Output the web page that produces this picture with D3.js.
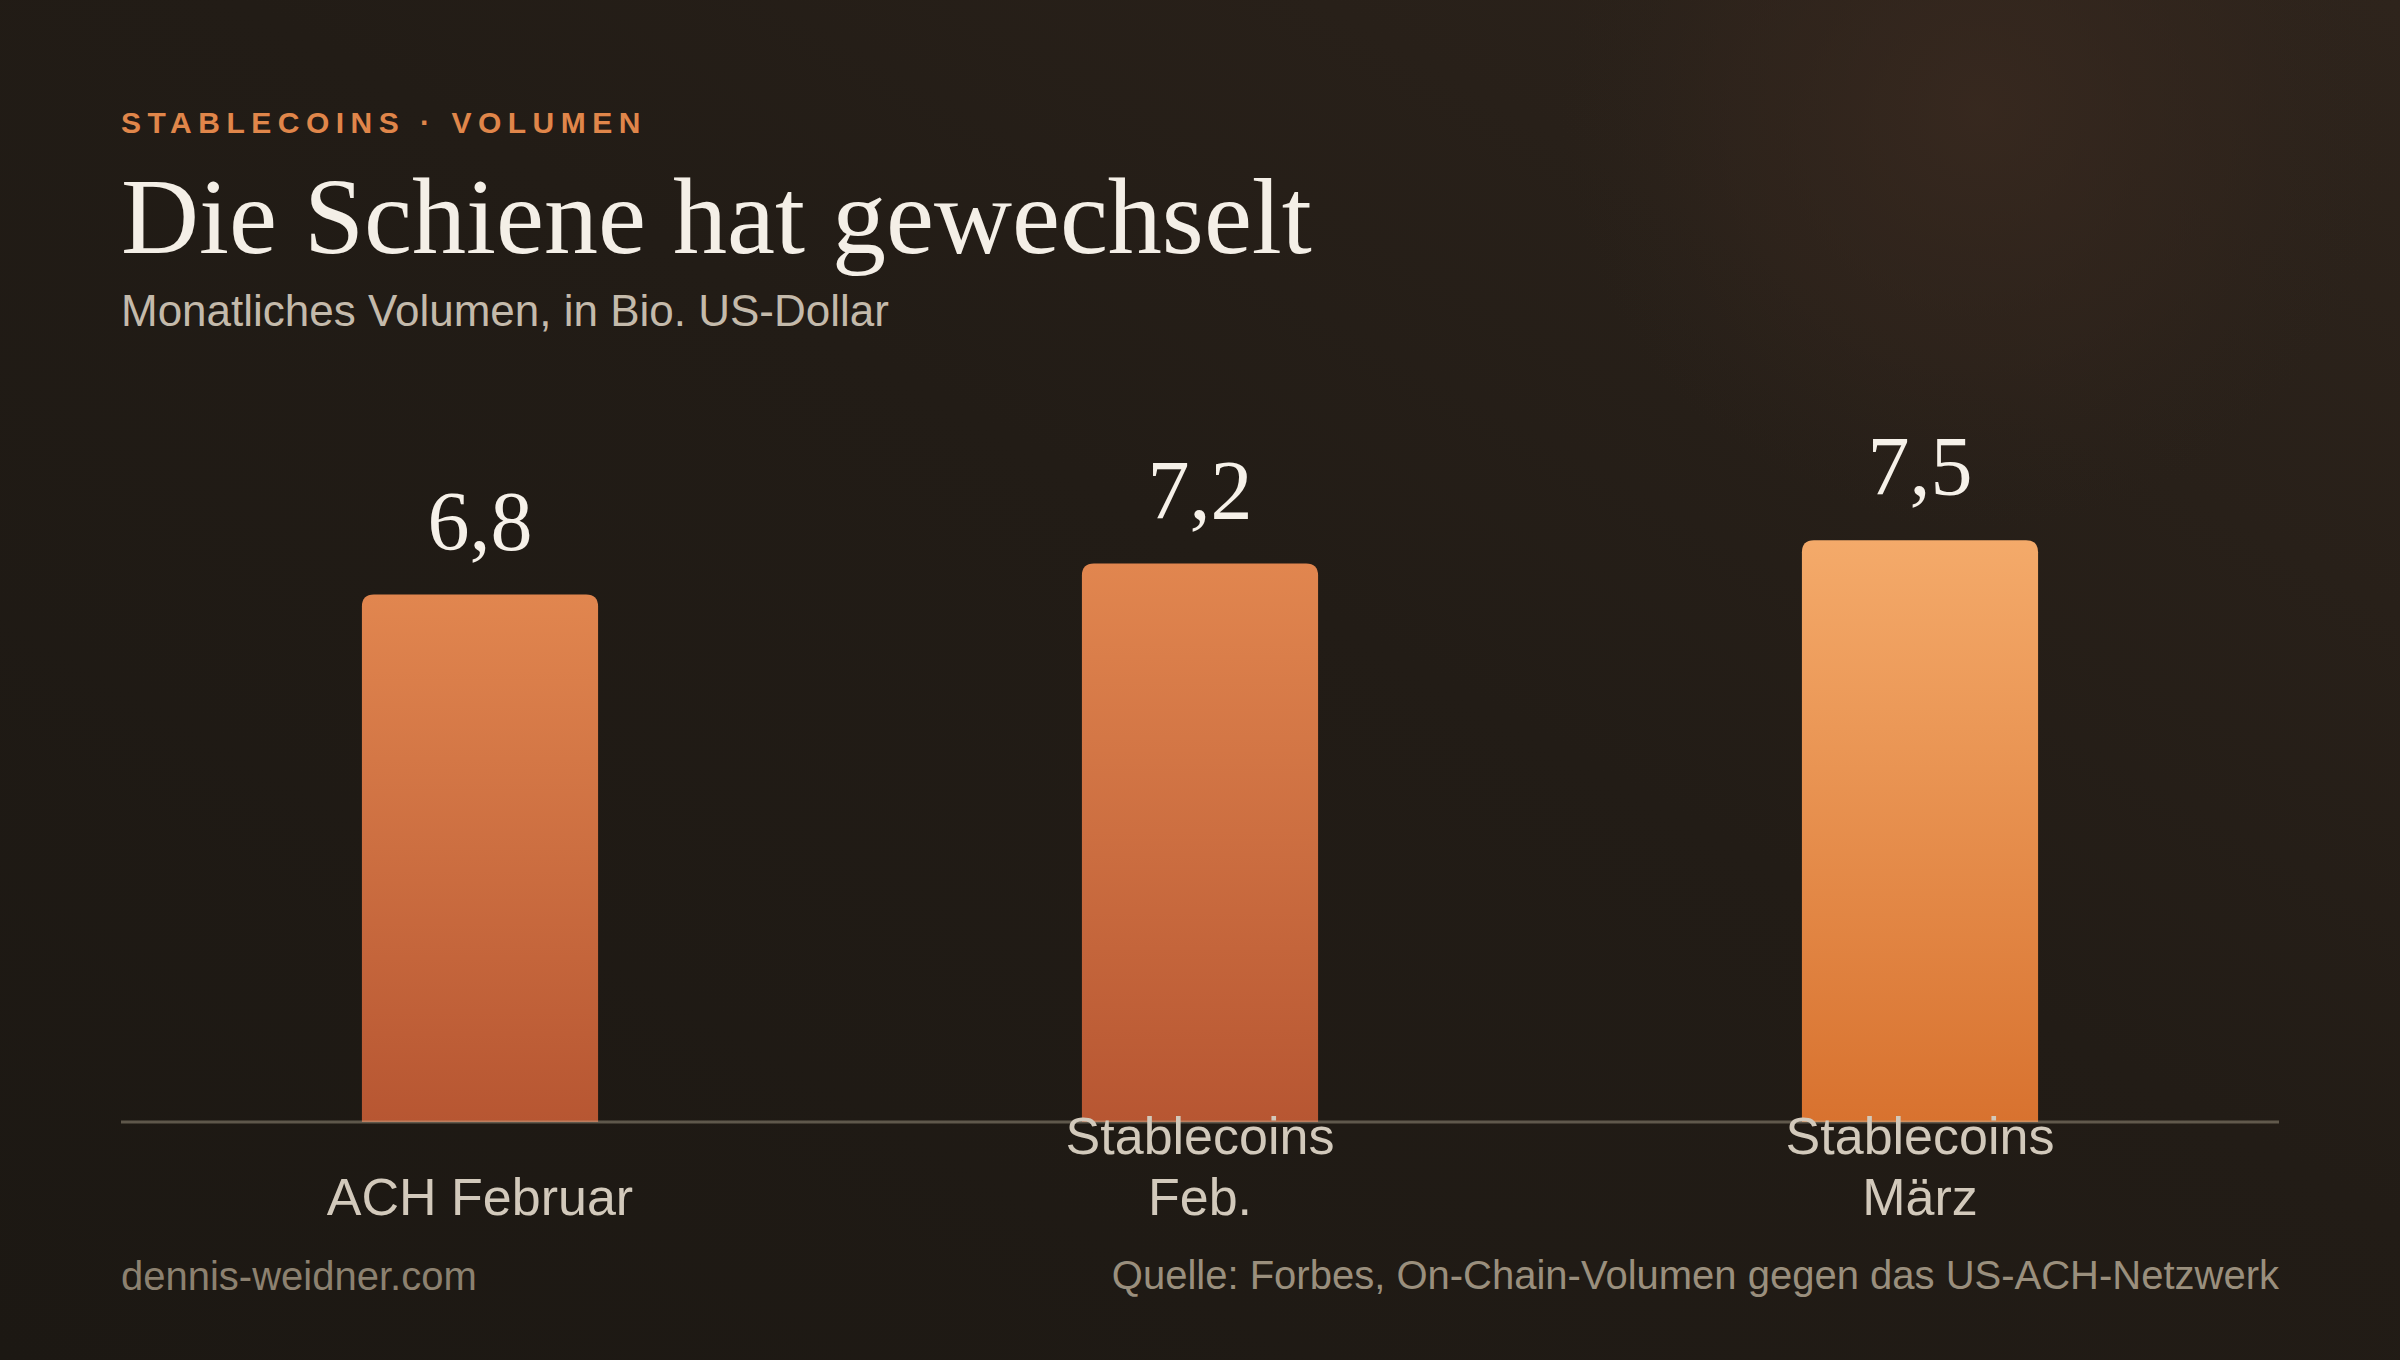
<!DOCTYPE html>
<html><head><meta charset="utf-8">
<script src="https://cdn.jsdelivr.net/npm/d3@7"></script>
<style>
html,body{margin:0;padding:0;background:#1f1a15;}
svg{display:block;}
</style></head>
<body>
<script>
const categories = [["ACH Februar"], ["Stablecoins", "Feb."], ["Stablecoins", "März"]];
const values = [6.8, 7.2, 7.5];
const valueLabels = ["6,8", "7,2", "7,5"];
const highlight = [false, false, true];

const W = 2400, H = 1360;
const svg = d3.select("body").append("svg").attr("width", W).attr("height", H);
const defs = svg.append("defs");

const bg = defs.append("linearGradient").attr("id","bg").attr("x1","0").attr("y1","1").attr("x2","1").attr("y2","0");
bg.append("stop").attr("offset","0").attr("stop-color","#1c1813");
bg.append("stop").attr("offset","0.55").attr("stop-color","#221c16");
bg.append("stop").attr("offset","1").attr("stop-color","#2e241c");
const glow = defs.append("radialGradient").attr("id","glow").attr("cx","1980").attr("cy","110").attr("r","420").attr("gradientUnits","userSpaceOnUse");
glow.append("stop").attr("offset","0").attr("stop-color","#3a2a20").attr("stop-opacity",0.8);
glow.append("stop").attr("offset","0.6").attr("stop-color","#35271e").attr("stop-opacity",0.4);
glow.append("stop").attr("offset","1").attr("stop-color","#2e241c").attr("stop-opacity",0);

const g1 = defs.append("linearGradient").attr("id","barA").attr("x1","0").attr("y1","0").attr("x2","0").attr("y2","1");
g1.append("stop").attr("offset","0").attr("stop-color","#e1864f");
g1.append("stop").attr("offset","1").attr("stop-color","#b75632");
const g2 = defs.append("linearGradient").attr("id","barB").attr("x1","0").attr("y1","0").attr("x2","0").attr("y2","1");
g2.append("stop").attr("offset","0").attr("stop-color","#f4aa6a");
g2.append("stop").attr("offset","1").attr("stop-color","#d8722f");

svg.append("rect").attr("width",W).attr("height",H).attr("fill","url(#bg)");
svg.append("rect").attr("width",W).attr("height",H).attr("fill","url(#glow)");

const left = 120, right = 2280, base = 1122;
const x = d3.scaleBand().domain(d3.range(values.length)).range([left, right]).paddingInner(0.672).paddingOuter(0.336);
const y = d3.scaleLinear().domain([0, d3.max(values) * 1.15]).range([base, 453]);

const SERIF = "Liberation Serif, DejaVu Serif, serif";
const SANS = "Liberation Sans, Arial, sans-serif";

// Header
svg.append("text").attr("x",121).attr("y",133).text("STABLECOINS · VOLUMEN")
  .attr("font-family",SANS).attr("font-weight","bold").attr("font-size",30)
  .attr("letter-spacing","6.5px").attr("fill","#e0864a");
const title = svg.append("text").attr("x",121).attr("y",253).text("Die Schiene hat gewechselt")
  .attr("font-family",SERIF).attr("font-size",100).attr("fill","#f4efe7");
const tl = title.node().getComputedTextLength();
title.attr("font-size", 100 * 1191 / tl);
svg.append("text").attr("x",121).attr("y",326).text("Monatliches Volumen, in Bio. US-Dollar")
  .attr("font-family",SANS).attr("font-size",44).attr("fill","#c4baab");

// Bars with rounded top corners
const r = 12;
function barPath(i){
  const x0 = x(i), x1 = x(i) + x.bandwidth(), y0 = y(values[i]), y1 = y(0);
  return `M${x0},${y1}V${y0+r}Q${x0},${y0} ${x0+r},${y0}H${x1-r}Q${x1},${y0} ${x1},${y0+r}V${y1}Z`;
}
svg.append("g").selectAll("path").data(values).join("path")
  .attr("d",(d,i)=>barPath(i))
  .attr("fill",(d,i)=>highlight[i] ? "url(#barB)" : "url(#barA)");

// Value labels
svg.append("g").selectAll("text").data(values).join("text")
  .attr("x",(d,i)=>x(i)+x.bandwidth()/2)
  .attr("y",d=>y(d)-45)
  .attr("text-anchor","middle")
  .attr("font-family",SERIF).attr("font-size",84)
  .attr("fill","#f6f1e9")
  .text((d,i)=>valueLabels[i]);

// Baseline
svg.append("line").attr("x1",left+1).attr("x2",right-1).attr("y1",base).attr("y2",base)
  .attr("stroke","#c8bca6").attr("stroke-opacity",0.38).attr("stroke-width",3);

// Category labels (bottom-anchored lines)
const cat = svg.append("g").selectAll("text").data(categories).join("text")
  .attr("text-anchor","middle")
  .attr("font-family",SANS).attr("font-size",52)
  .attr("fill","#d2c9bb");
cat.each(function(lines,i){
  const t = d3.select(this);
  const n = lines.length;
  lines.forEach((s,k)=>{
    t.append("tspan").attr("x", x(i)+x.bandwidth()/2).attr("y", 1215 - (n-1-k)*61).text(s);
  });
});

// Footer
svg.append("text").attr("x",121).attr("y",1290).text("dennis-weidner.com")
  .attr("font-family",SANS).attr("font-size",40).attr("fill","#8c8170");
svg.append("text").attr("x",2279).attr("y",1289).attr("text-anchor","end")
  .text("Quelle: Forbes, On-Chain-Volumen gegen das US-ACH-Netzwerk")
  .attr("font-family",SANS).attr("font-size",40).attr("fill","#9a8f7d");
</script>
</body></html>
